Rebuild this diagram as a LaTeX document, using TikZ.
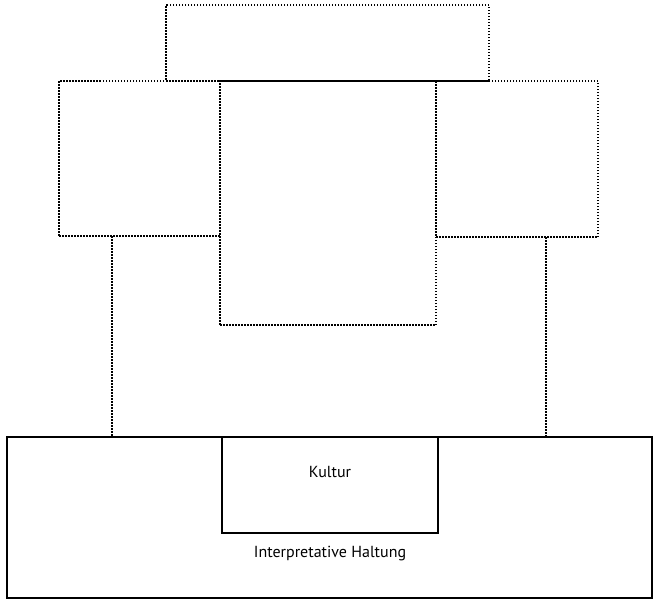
\documentclass[tikz,border=0pt]{standalone}
\usepackage{fontspec}
\setmainfont{PT Sans}
\begin{document}
\begin{tikzpicture}[x=1pt,y=-1pt,
  dotbox/.style={draw=black, line width=1.5pt, dash pattern=on 1.5pt off 1.5pt, inner sep=0pt, outer sep=0pt},
  dotline/.style={draw=black, line width=1.5pt, dash pattern=on 1.5pt off 1.5pt},
  solidbox/.style={draw=black, line width=1.3pt, inner sep=0pt, outer sep=0pt},
  lbl/.style={font=\fontsize{16}{18}\selectfont}]
\useasboundingbox (0,0) rectangle (653,603);
% top box
\node[dotbox, minimum width=323pt, minimum height=76pt] (top) at (327.5,43) {};
% left and right boxes
\node[dotbox, minimum width=161pt, minimum height=155pt] (left) at (139.5,158.5) {};
\node[dotbox, minimum width=162pt, minimum height=156pt] (right) at (517,159) {};
% centre box
\node[dotbox, minimum width=216pt, minimum height=244pt] (ctr) at (328,203) {};
\draw[line width=1.2pt] (ctr.north west) -- (ctr.north east);
% bottom box
\node[solidbox, minimum width=645pt, minimum height=161pt] (base) at (329.5,517.5) {};
\node[solidbox, minimum width=216pt, minimum height=96pt] (kultur) at (330,485) {};
\node[lbl] (kt) at (330,472) {Kultur};
\node[lbl] (ih) at (330,554) {Interpretative Haltung};
% connectors
\draw[dotline] ([xshift=-27.5pt]left.south) -- ([xshift=-27.5pt]left.south |- base.north);
\draw[dotline] ([xshift=29pt]right.south) -- ([xshift=29pt]right.south |- base.north);
\end{tikzpicture}
\end{document}
